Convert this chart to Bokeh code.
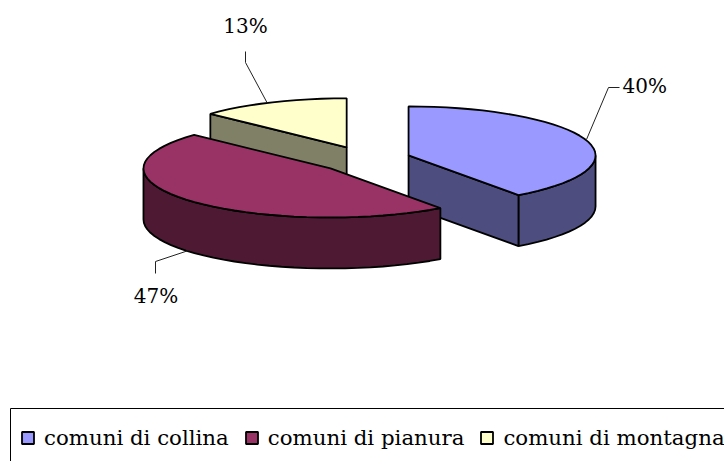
import numpy as np
from bokeh.plotting import figure
from bokeh.models import Range1d, Legend, LegendItem
from bokeh.core.properties import value
from bokeh.embed import file_html
from bokeh.resources import INLINE

categories = ["comuni di collina", "comuni di pianura", "comuni di montagna"]
percent = [40, 47, 13]
top_colors = ["#9999FF", "#993366", "#FFFFCC"]
side_colors = ["#4D4D80", "#4D1933", "#808066"]
labels = ["40%", "47%", "13%"]

FONT = "DejaVu Serif"
CX, CY = 364.4, 159.1      # pie centre (window pixels)
RX, RY = 187.0, 49.0       # ellipse radii
DEPTH = 51.0
EXPL_X, EXPL_Y = 45.9, 13.4
LW = 1.8

W, H = 724, 461
p = figure(width=W, height=H, output_backend="svg", toolbar_location=None,
           x_range=Range1d(0, W), y_range=Range1d(H, 0),
           min_border=0, outline_line_color=None, background_fill_color="white")
p.axis.visible = False
p.grid.visible = False

def arc(cx, cy, a0, a1):
    t = np.radians(np.linspace(a0, a1, int((a1 - a0) / 4) + 2))
    return cx + RX * np.sin(t), cy - RY * np.cos(t)

starts = np.cumsum([0] + percent[:-1]) * 3.6
ends = np.cumsum(percent) * 3.6
centres = []
for s, e in zip(starts, ends):
    m = np.radians((s + e) / 2)
    centres.append((CX + EXPL_X * np.sin(m), CY - EXPL_Y * np.cos(m)))

renderers = {}
# back to front: montagna, collina, pianura
for i in [2, 0, 1]:
    s, e = starts[i], ends[i]
    cx, cy = centres[i]
    a0, a1 = max(s, 90), min(e, 270)
    if a1 > a0:
        xa, ya = arc(cx, cy, a0, a1)
        p.patch(np.r_[xa, xa[::-1]], np.r_[ya, ya[::-1] + DEPTH],
                fill_color=side_colors[i], line_color="black", line_width=LW)
    if i == 0 or i == 2:
        ang = np.radians(e if i == 0 else s)
        ex, ey = cx + RX * np.sin(ang), cy - RY * np.cos(ang)
        p.patch([cx, ex, ex, cx], [cy, ey, ey + DEPTH, cy + DEPTH],
                fill_color=side_colors[i], line_color="black", line_width=LW)
    xa, ya = arc(cx, cy, s, e)
    renderers[i] = p.patch(np.r_[cx, xa], np.r_[cy, ya], fill_color=top_colors[i],
                           line_color="black", line_width=LW)

# leader lines and percent labels
leader_x = [[586, 608, 619], [188, 155, 155], [267, 245, 245]]
leader_y = [[139, 87, 87], [250, 261, 273], [103, 62, 51]]
p.multi_line(leader_x, leader_y, line_color="#222222", line_width=1)
lab_x = [622, 155.5, 245]
lab_y = [85, 295, 25]
lab_align = ["left", "center", "center"]
for x, y, t, a in zip(lab_x, lab_y, labels, lab_align):
    p.text([x], [y], text=[t], text_font=value(FONT), text_font_size="20px",
           text_align=a, text_baseline="middle", text_color="black")

# legend frame runs off the window to the right and below
p.line([10, 10, 740], [480, 408, 408], line_color="black", line_width=1)

legend = Legend(items=[LegendItem(label=c, renderers=[renderers[i]]) for i, c in enumerate(categories)],
                orientation="horizontal", location=(20, 11), border_line_color=None,
                background_fill_alpha=0,
                label_text_font=FONT, label_text_font_size="21.3px", label_text_color="black",
                glyph_width=15, glyph_height=15, spacing=15, padding=5, margin=0,
                label_standoff=9)
p.add_layout(legend, "center")

open("out.html", "w").write(file_html(p, INLINE))
